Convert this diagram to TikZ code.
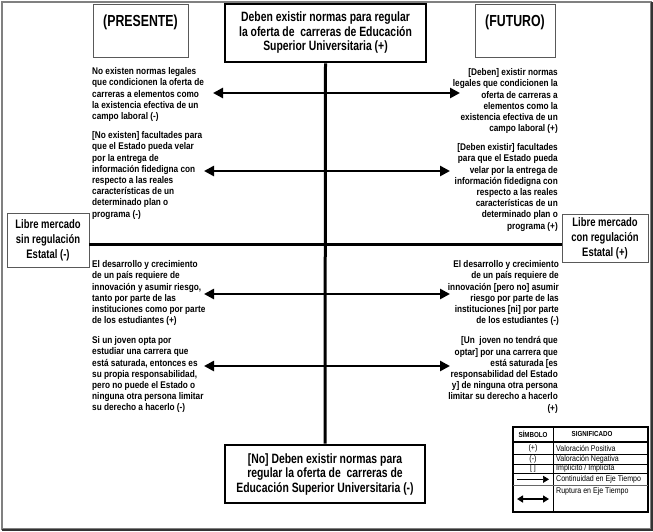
\documentclass[tikz,border=0pt]{standalone}
\usepackage{fontspec}
\setmainfont{Liberation Sans}
\newfontfamily\boxfam[FakeStretch=0.77]{Liberation Sans}
\newfontfamily\smallfam[FakeStretch=0.85]{Liberation Sans}
\newfontfamily\legfam[FakeStretch=0.85]{Liberation Sans}
\usetikzlibrary{arrows.meta}
\tikzset{
  thinbox/.style={draw=black!65, line width=0.7pt, inner sep=0},
  thickbox/.style={draw=black, line width=2.6pt, inner sep=0, align=center,
    font=\boxfam\bfseries\fontsize{13.5}{14.5}\selectfont},
  sidebox/.style={draw=black!65, line width=0.7pt, inner sep=0, align=center,
    font=\boxfam\bfseries\fontsize{12.3}{15}\selectfont},
  title/.style={inner sep=0, font=\boxfam\bfseries\fontsize{16}{18}\selectfont},
  axisline/.style={line width=3pt},
  rupt/.style={line width=2.8pt, {Triangle[length=10pt,width=10pt]}-{Triangle[length=10pt,width=10pt]}},
  lt/.style={inner sep=0, anchor=north west, align=left,
    font=\smallfam\bfseries\fontsize{9.7}{11.2}\selectfont},
  rt/.style={inner sep=0, anchor=north east, align=right,
    font=\smallfam\bfseries\fontsize{9.7}{11.2}\selectfont},
  legtxt/.style={inner sep=0, font=\legfam\fontsize{8.3}{9}\selectfont},
  leghead/.style={inner sep=0, font=\legfam\bfseries\fontsize{7.3}{8}\selectfont},
}
\begin{document}
\begin{tikzpicture}[x=1pt,y=-1pt]
\useasboundingbox (0,0) rectangle (653,531);
% outer frame
\draw[black!50, line width=2pt] (1.5,1.5) rectangle (650.5,528.5);
\draw[black!80, line width=1.5pt] (652.2,2) -- (652.2,530.2) -- (2,530.2);

% header boxes
\node[thinbox, minimum width=95pt, minimum height=53pt] (pres) at (140.5,30.5) {};
\node[title] (presT) at (140.5,22) {(PRESENTE)};
\node[thinbox, minimum width=80pt, minimum height=53pt] (fut) at (515,30.5) {};
\node[title] (futT) at (515,22) {(FUTURO)};

\node[thickbox, minimum width=201pt, minimum height=58pt] (top) at (325.5,33)
  {Deben existir normas para regular\\la oferta de\ \ carreras de Educación\\Superior Universitaria (+)};
\node[thickbox, minimum width=200pt, minimum height=58pt] (bot) at (325,474)
  {[No] Deben existir normas para\\regular la oferta de\ \ carreras de\\Educación Superior Universitaria (-)};

\node[sidebox, minimum width=82pt, minimum height=54pt] (lbox) at (48,240)
  {Libre mercado\\sin regulación\\Estatal (-)};
\node[sidebox, minimum width=86pt, minimum height=48pt] (rbox) at (605,238.5)
  {Libre mercado\\con regulación\\Estatal (+)};

% axes
\coordinate (hy) at (0,244);
\draw[axisline] (top.south) -- (bot.north);
\draw[axisline] (lbox.east |- hy) -- (rbox.west |- hy);

% rupture arrows
\coordinate (a1l) at (213,93);  \coordinate (a1r) at (460,93);
\coordinate (a2l) at (204,171); \coordinate (a2r) at (450,171);
\coordinate (a3l) at (204,294); \coordinate (a3r) at (450,294);
\coordinate (a4l) at (204,366); \coordinate (a4r) at (450,366);
\draw[rupt] (a1l) -- (a1r);
\draw[rupt] (a2l) -- (a2r);
\draw[rupt] (a3l) -- (a3r);
\draw[rupt] (a4l) -- (a4r);

% left texts
\node[lt] (l1) at (92,67.5) {No existen normas legales\\que condicionen la oferta de\\carreras a elementos como\\la existencia efectiva de un\\campo laboral (-)};
\node[lt] (l2) at (92,131.5) {[No existen] facultades para\\que el Estado pueda velar\\por la entrega de\\información fidedigna con\\respecto a las reales\\características de un\\determinado plan o\\programa (-)};
\node[lt] (l3) at (92,260.5) {El desarrollo y crecimiento\\de un país requiere de\\innovación y asumir riesgo,\\tanto por parte de las\\instituciones como por parte\\de los estudiantes (+)};
\node[lt] (l4) at (92,336.5) {Si un joven opta por\\estudiar una carrera que\\está saturada, entonces es\\su propia responsabilidad,\\pero no puede el Estado o\\ninguna otra persona limitar\\su derecho a hacerlo (-)};

% right texts
\node[rt] (r1) at (558,68.5) {[Deben] existir normas\\legales que condicionen la\\oferta de carreras a\\elementos como la\\existencia efectiva de un\\campo laboral (+)};
\node[rt] (r2) at (558,143.5) {[Deben existir] facultades\\para que el Estado pueda\\velar por la entrega de\\información fidedigna con\\respecto a las reales\\características de un\\determinado plan o\\programa (+)};
\node[rt] (r3) at (559,260.5) {El desarrollo y crecimiento\\de un país requiere de\\innovación [pero no] asumir\\riesgo por parte de las\\instituciones [ni] por parte\\de los estudiantes (-)};
\node[rt] (r4) at (558,336.5) {[Un\ \ joven no tendrá que\\optar] por una carrera que\\está saturada [es\\responsabilidad del Estado\\y] de ninguna otra persona\\limitar su derecho a hacerlo\\(+)};

% legend
\draw[line width=1.5pt] (513,427) rectangle (648,512);
\draw[line width=0.8pt] (553,427) -- (553,512);
\draw[line width=1.2pt] (513,442) -- (648,442);
\draw[line width=0.6pt] (513,454) -- (648,454);
\draw[line width=0.6pt] (513,464) -- (648,464);
\draw[line width=0.6pt] (513,473.5) -- (648,473.5);
\draw[line width=0.4pt, black!60] (513,485) -- (648,485);
\node[leghead] (hs) at (533,434) {SÍMBOLO};
\node[leghead] (hm) at (592,434) {SIGNIFICADO};
\node[legtxt] (s1) at (533,448) {(+)};
\node[legtxt] (s2) at (533,459) {(-)};
\node[legtxt] (s3) at (533,468.7) {[ ]};
\node[legtxt, anchor=west] (m1) at (556,448) {Valoración Positiva};
\node[legtxt, anchor=west] (m2) at (556,459) {Valoración Negativa};
\node[legtxt, anchor=west] (m3) at (556,468.7) {Implícito / Implícita};
\node[legtxt, anchor=west] (m4) at (556,479.3) {Continuidad en Eje Tiempo};
\node[legtxt, anchor=west] (m5) at (556,491) {Ruptura en Eje Tiempo};
\coordinate (la1) at (517,479.3); \coordinate (la2) at (549,479.3);
\draw[line width=0.7pt, -{Triangle[length=6pt,width=7pt]}] (la1) -- (la2);
\coordinate (lb1) at (517,499); \coordinate (lb2) at (549,499);
\draw[line width=1.6pt, {Triangle[length=6pt,width=7pt]}-{Triangle[length=6pt,width=7pt]}] (lb1) -- (lb2);
\end{tikzpicture}
\end{document}
